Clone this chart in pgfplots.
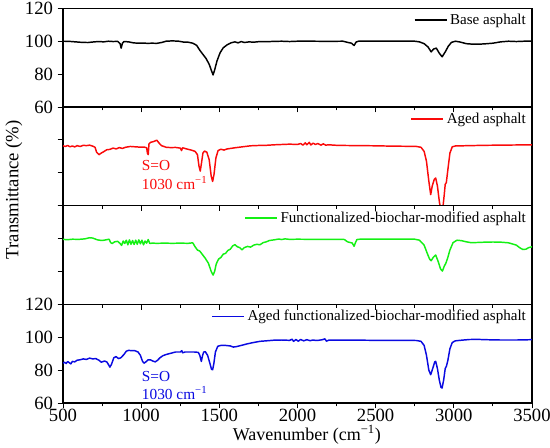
\documentclass[border=0pt]{standalone}
\usepackage{pgfplots}
\pgfplotsset{compat=1.18}
\usepackage{fontspec}
\setmainfont{Liberation Serif}
\definecolor{cblue}{RGB}{10,10,225}
\definecolor{cgreen}{RGB}{20,240,20}
\definecolor{cred}{RGB}{250,10,10}
\pgfplotsset{
  panel/.style={
    scale only axis, width=351.75pt, height=74pt,
    xmin=500, xmax=3500, ymin=60, ymax=120,
    xtick={500,1000,...,3500}, minor x tick num=1,
    ytick={60,80,100,120},
    tick align=outside, xtick pos=bottom, ytick pos=left,
    major tick length=4pt, minor tick length=2.5pt,
    axis line style={line width=0.8pt}, every tick/.style={line width=0.7pt, black},
    tick label style={font=\fontsize{14}{14}\selectfont},
    xticklabel style={yshift=3pt},
    /pgf/number format/assume math mode=true,
    /pgf/number format/set thousands separator={},
    legend style={at={(0.996,0.985)}, anchor=north east, draw=none, fill=none,
      font=\fontsize{11.3}{12}\selectfont, inner sep=1pt, row sep=0pt},
    legend cell align=left,
    legend image code/.code={\draw[#1, line width=1.2pt] (0pt,0pt) -- (24pt,0pt);},
    every axis plot/.append style={line width=1.1pt, line join=round},
  }
}
\begin{document}
\begin{tikzpicture}
\path[use as bounding box] (-47.25pt,-33.75pt) rectangle (365.25pt,302.25pt);
% Panel 1
\begin{axis}[panel, at={(0pt,222pt)}, anchor=south west, xticklabels={}]
\addplot[black] coordinates {(500,100) (540,99.9) (580,99.6) (620,99.3) (660,99.2) (700,99.6) (730,99.8) (760,99.6) (790,100) (820,99.8) (850,99.9) (865,98.5) (872,95.8) (880,98.8) (890,99.8) (920,99.6) (950,99.0) (980,98.8) (1010,98.9) (1040,98.7) (1070,98.8) (1100,98.7) (1130,99.2) (1160,100) (1200,100.2) (1240,100) (1270,99.5) (1300,99.4) (1330,98.8) (1355,97.5) (1375,94.5) (1395,92.0) (1415,89.5) (1435,86) (1450,82) (1460,79.5) (1470,82.5) (1485,88) (1505,93) (1525,96) (1550,97.8) (1575,99) (1600,99.6) (1620,99) (1640,99.8) (1660,99.2) (1690,99.6) (1720,99.4) (1760,99.8) (1800,99.7) (1850,99.9) (1900,100) (1950,99.8) (2000,100) (2100,100) (2200,99.9) (2290,100) (2320,99.3) (2345,98.8) (2362,97.4) (2375,99.5) (2390,100) (2450,100) (2550,100) (2650,100) (2750,100) (2780,99.6) (2810,98.5) (2835,96.5) (2855,93.5) (2870,95.2) (2888,95.8) (2905,93) (2925,90.5) (2945,93.5) (2965,97) (2985,99.3) (3010,100) (3040,99.5) (3080,98.5) (3120,98.2) (3160,98.2) (3200,98.4) (3250,98.8) (3300,99.6) (3350,100) (3400,99.8) (3450,100) (3500,100)};
\addlegendentry{Base asphalt}
\end{axis}
% Panel 2
\begin{axis}[panel, at={(0pt,148pt)}, anchor=south west, xticklabels={}, yticklabels={}]
\addplot[cred] coordinates {(500,96.4) (515,96) (530,96.6) (545,95.8) (560,96.3) (575,95.7) (590,96.5) (610,96) (630,96.7) (650,96.5) (670,96.8) (690,96.2) (705,95.5) (715,92.5) (730,91) (745,92) (760,92.8) (780,94) (800,94.2) (820,95) (840,94.5) (860,95.3) (880,94.8) (900,95.5) (930,96) (960,95.8) (990,95.6) (1020,95.6) (1035,95.2) (1040,92) (1045,91) (1050,97.5) (1060,98.5) (1080,99) (1100,99.8) (1115,98) (1130,96.5) (1160,95.5) (1190,95.3) (1220,95.4) (1250,95) (1258,93.5) (1265,95.2) (1290,94.5) (1320,93.8) (1345,93) (1360,91) (1370,84) (1378,81) (1386,86) (1395,92) (1405,93.2) (1420,92.5) (1435,88) (1448,78) (1457,74.7) (1466,79) (1478,89) (1492,93.5) (1510,94.3) (1530,93.8) (1550,94.5) (1600,95.2) (1650,95.8) (1700,96.4) (1750,96.6) (1800,96.7) (1850,97) (1900,97.2) (1950,97.4) (2000,97.2) (2020,97.8) (2035,96.8) (2050,98.2) (2060,97) (2075,98.5) (2085,96.9) (2100,98) (2115,97.2) (2130,97.8) (2150,96.8) (2165,97.6) (2180,96.8) (2200,97) (2250,96.7) (2300,96.6) (2400,96.5) (2500,96.4) (2600,96.2) (2700,96.1) (2760,96) (2790,95.5) (2810,93) (2825,87) (2840,75) (2852,66.7) (2862,72) (2875,76) (2884,76.8) (2895,72) (2908,62) (2918,57) (2928,57) (2938,66) (2945,73) (2952,74) (2962,82) (2975,92) (2990,95.8) (3010,96.3) (3100,96.5) (3200,96.7) (3300,96.8) (3400,96.9) (3500,97)};
\addlegendentry{Aged asphalt}
\node[anchor=west, text=cred, font=\fontsize{11.5}{12}\selectfont] at (axis cs:975,84.4) {S=O};
\node[anchor=west, text=cred, font=\fontsize{11.5}{12}\selectfont] at (axis cs:975,73.9) {1030 cm\textsuperscript{−1}};
\end{axis}
% Panel 3
\begin{axis}[panel, at={(0pt,74pt)}, anchor=south west, xticklabels={}, yticklabels={}]
\addplot[cgreen] coordinates {(500,99.5) (530,99.3) (560,99.6) (600,99.5) (640,99.8) (670,100.5) (690,100.3) (720,99.2) (750,98.8) (780,99.3) (795,99.6) (805,97.5) (815,97) (830,98) (850,98.3) (865,97) (875,95.8) (885,98.5) (895,97) (905,99) (915,96.2) (925,99.2) (935,96.5) (945,98.8) (955,96.4) (965,99) (975,96.5) (985,99.2) (995,96.8) (1005,99) (1015,96.2) (1025,98.5) (1035,97.2) (1045,99.4) (1055,97) (1070,97.2) (1100,97.1) (1150,97.2) (1200,97.1) (1250,97.2) (1300,97.1) (1330,97.4) (1345,95) (1360,93) (1375,92.4) (1390,90.5) (1410,88) (1430,85) (1448,80) (1460,77.8) (1470,80) (1480,84.5) (1495,87.5) (1510,88.5) (1525,90.5) (1540,91) (1555,92.8) (1570,93.5) (1585,95.5) (1600,96.3) (1615,95) (1630,94.5) (1645,93.2) (1660,94.5) (1680,95.2) (1700,94.8) (1720,96) (1740,96.5) (1760,96.2) (1780,97.5) (1800,98) (1820,98.8) (1850,99.2) (1880,99.7) (1900,99.4) (1920,99.8) (1950,99.5) (2000,99.6) (2100,99.5) (2200,99.5) (2290,99.5) (2300,99.4) (2320,98) (2340,97.5) (2350,97.3) (2362,95.3) (2372,97.8) (2380,99.4) (2400,99.6) (2500,99.6) (2600,99.6) (2750,99.6) (2780,99) (2810,96) (2830,91) (2845,87.5) (2855,86.5) (2868,88.5) (2884,90) (2900,86) (2915,81.5) (2927,80.2) (2938,83) (2949,85) (2960,88) (2975,93) (2995,97.5) (3020,99) (3050,98.7) (3080,98) (3110,97.5) (3150,97.6) (3200,97.8) (3250,97.9) (3300,97.8) (3350,97.4) (3400,96) (3420,94.5) (3440,93.4) (3460,93.5) (3480,94.5) (3500,95)};
\addlegendentry{Functionalized-biochar-modified asphalt}
\end{axis}
% Panel 4
\begin{axis}[panel, at={(0pt,0pt)}, anchor=south west,
  xlabel={Wavenumber (cm\textsuperscript{−1})},
  xlabel style={font=\fontsize{13.5}{14}\selectfont, at={(axis description cs:0.52,0)}, anchor=center, yshift=-24pt}]
\addplot[cblue] coordinates {(500,84.2) (510,84.8) (520,84) (530,85.2) (540,84.5) (550,83.8) (560,85.3) (575,85) (590,86) (610,86.3) (630,86.8) (650,86.5) (670,87.3) (690,86.8) (710,87) (730,86) (745,84.8) (765,85.5) (780,85) (790,83.5) (800,81.8) (810,83.5) (825,87.5) (840,88.2) (855,87) (870,87.5) (890,89.5) (905,91.5) (920,92) (940,91.8) (960,91.8) (980,91) (995,89) (1008,85.5) (1018,84.2) (1030,85) (1045,86.3) (1060,86.2) (1075,85.5) (1090,85) (1105,86) (1120,87.5) (1140,88.8) (1160,89.5) (1180,90) (1200,90.5) (1220,91) (1250,91) (1260,91.8) (1265,90.5) (1280,91) (1310,91) (1340,91) (1365,90.8) (1375,89) (1385,85.3) (1393,89) (1400,91) (1410,91.2) (1425,89) (1440,84) (1450,80.5) (1457,80.2) (1465,84) (1475,91) (1490,94.5) (1510,95) (1540,95) (1570,94.7) (1590,94) (1610,94.3) (1640,95) (1680,96) (1720,96.8) (1760,97.5) (1800,97.8) (1850,98.2) (1900,98.3) (1950,98.1) (1965,98.8) (1975,97.5) (1990,98.6) (2005,97.6) (2020,98.6) (2040,97.8) (2060,98.5) (2080,97.9) (2100,98.3) (2120,98) (2140,98.2) (2160,98.5) (2175,99) (2185,97.6) (2200,98.2) (2250,98.2) (2300,98.2) (2400,98.2) (2500,98.1) (2600,98.1) (2700,98.1) (2760,98) (2790,97.5) (2810,95) (2825,89) (2840,80) (2852,77.2) (2865,81) (2878,85) (2884,85.3) (2895,81) (2907,74) (2918,69.5) (2925,69.1) (2935,74) (2945,81) (2952,82.2) (2962,86) (2975,93) (2990,96.8) (3010,97.8) (3050,98.2) (3100,98.6) (3150,98.7) (3200,98.5) (3300,98.3) (3400,98.3) (3500,98.5)};
\addlegendentry{Aged functionalized-biochar-modified asphalt}
\node[anchor=west, text=cblue, font=\fontsize{11.5}{12}\selectfont] at (axis cs:975,76.2) {S=O};
\node[anchor=west, text=cblue, font=\fontsize{11.5}{12}\selectfont] at (axis cs:975,66) {1030 cm\textsuperscript{−1}};
\end{axis}
\node[rotate=90, font=\fontsize{14}{14}\selectfont] at (-36.75pt,160pt) {Transmittance (\%)};
\end{tikzpicture}
\end{document}
